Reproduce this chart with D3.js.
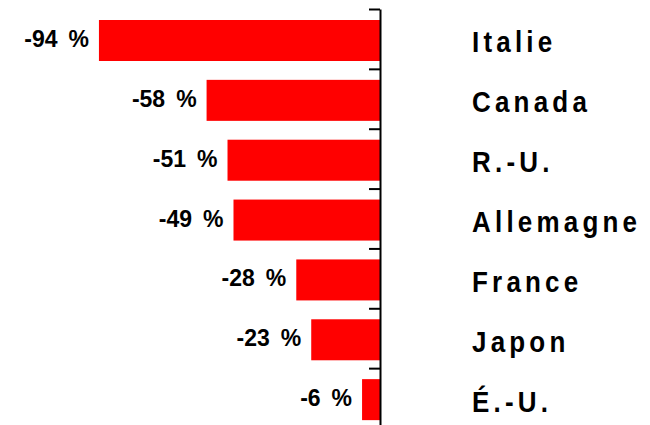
<!DOCTYPE html>
<html>
<head>
<meta charset="utf-8">
<script src="https://cdn.jsdelivr.net/npm/d3@7"></script>
<style>
    body { margin: 0; background: #fff; }
    svg { display: block; }
    .value { font-family: "Liberation Sans", Arial, sans-serif; font-weight: bold; font-size: 23px; fill: #000; }
    .country { font-family: "Liberation Sans", Arial, sans-serif; font-weight: bold; font-size: 26px; letter-spacing: 4.2px; fill: #000; }
</style>
</head>
<body>
<div class="content"></div>
<script>
// страны сверху вниз
var countries = ['Italie', 'Canada', 'R.-U.', 'Allemagne', 'France', 'Japon', 'É.-U.'];

// изменение, %
var values = [-94, -58, -51, -49, -28, -23, -6];

// размеры картинки
var w = 650,
    h = 425;

var svg = d3.select('.content').append('svg')
    .attr('width', w)
    .attr('height', h);

// шкалы
var x = d3.scaleLinear()
    .domain([-100, 0])
    .range([81, 380]);

var y = d3.scaleBand()
    .domain(countries)
    .range([9, 428]);

var rows = countries.map(function(c, i) { return { country: c, value: values[i] }; });

// столбики
svg.selectAll('rect.bar')
    .data(rows)
    .enter()
    .append('rect')
    .attr('class', 'bar')
    .attr('x', function(d) { return x(d.value); })
    .attr('y', function(d) { return y(d.country) + 11; })
    .attr('width', function(d) { return x(0) - x(d.value); })
    .attr('height', 41)
    .style('fill', '#ff0000');

// ось с засечками между столбиками
var tickScale = d3.scaleLinear()
    .domain([0, countries.length])
    .range(y.range());

svg.append('g')
    .attr('transform', 'translate(' + x(0) + ',0)')
    .call(d3.axisLeft(tickScale)
        .tickValues(d3.range(countries.length + 1))
        .tickSize(11)
        .tickSizeOuter(0)
        .tickFormat(''))
    .call(function(g) {
        g.selectAll('path, line').attr('stroke', '#000').attr('stroke-width', 2);
    });

// подписи значений
var val = svg.selectAll('text.value')
    .data(rows)
    .enter()
    .append('text')
    .attr('class', 'value')
    .attr('text-anchor', 'end')
    .attr('x', function(d) { return x(d.value) - 10; })
    .attr('y', function(d) { return y(d.country) + y.bandwidth() / 2 + 8; });
val.append('tspan').text(function(d) { return d.value; });
val.append('tspan').attr('dx', 11).text('%');

// названия стран
svg.selectAll('text.country')
    .data(rows)
    .enter()
    .append('text')
    .attr('class', 'country')
    .attr('transform', function(d) {
        return 'translate(472,' + (y(d.country) + y.bandwidth() / 2 + 13.5) + ') scale(1,1.15)';
    })
    .text(function(d) { return d.country; });
</script>
</body>
</html>
